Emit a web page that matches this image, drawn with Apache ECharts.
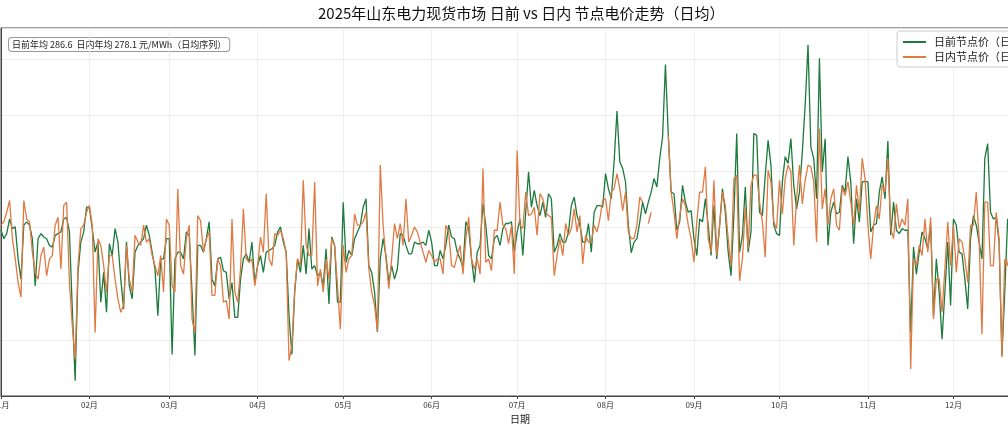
<!DOCTYPE html>
<html>
<head>
<meta charset="utf-8">
<script src="https://cdn.jsdelivr.net/npm/echarts@6/dist/echarts.min.js"></script>
<style>
  html, body { margin: 0; padding: 0; background: #fff; }
  #chart { width: 1008px; height: 429px; }
</style>
</head>
<body>
<div id="chart"></div>
<script>
// 日均节点电价（元/MWh），按 2025-01-01 起逐日排列，右侧超出画面部分未读取
var dayAheadPrice = [
  295,280,289,315,298,301,244,208,304,310,
  304,280,196,280,289,283,280,268,265,286,
  289,292,315,318,292,155,27,220,274,292,
  336,336,298,256,274,167,220,149,271,250,
  298,274,208,155,274,196,173,256,268,274,
  280,304,286,256,226,143,244,244,280,280,
  74,244,256,256,244,292,286,185,72,268,
  268,256,280,310,208,196,244,247,223,220,
  173,202,140,140,208,244,253,238,274,202,
  232,250,220,256,259,262,268,292,301,274,
  256,143,74,185,244,220,268,217,298,226,
  232,214,220,196,262,164,283,268,167,167,
  345,238,259,250,280,292,304,336,351,232,
  220,185,114,244,280,250,202,232,208,226,
  289,286,268,253,253,274,271,271,274,268,
  295,274,232,232,259,244,268,304,283,280,
  256,244,229,310,298,244,202,256,268,342,
  304,250,244,280,286,268,298,307,307,310,
  256,292,315,250,327,399,336,366,339,321,
  345,318,360,351,256,268,289,274,274,292,
  339,354,321,304,274,274,307,256,327,339,
  339,336,396,369,351,417,507,417,405,381,
  304,255,274,280,310,345,324,345,363,387,
  372,423,461,590,464,363,360,295,310,375,
  345,327,330,280,250,315,310,351,304,250,
  339,244,304,369,327,256,214,321,467,256,
  286,372,256,292,467,464,327,321,393,455,
  411,304,289,286,381,426,414,458,375,333,
  363,434,518,625,443,423,351,601,399,458,
  268,327,345,324,327,375,363,426,381,271,
  351,310,381,382,381,292,304,307,363,390,
  351,454,286,345,295,289,298,295,295,113,
  265,217,256,292,280,262,304,143,244,185,
  101,185,274,161,315,304,256,253,208,155,
  280,321,304,274,244,423,449,327,315,318,
  274,72,185,315,304
];

var intradayPrice = [
  304,310,327,348,280,244,202,176,348,315,
  310,256,220,208,250,265,214,244,250,304,
  318,226,339,345,202,125,66,232,298,304,
  327,339,304,113,280,268,232,185,250,250,
  208,173,149,161,268,208,185,286,274,268,
  304,274,280,250,232,214,250,185,315,304,
  196,185,369,232,217,280,304,137,113,321,
  312,256,280,292,179,179,244,232,167,170,
  137,315,185,167,226,333,244,238,244,196,
  232,283,256,360,244,232,289,286,295,280,
  256,63,89,191,244,232,384,268,250,250,
  381,196,226,185,244,208,280,268,196,119,
  268,220,244,250,324,304,304,310,327,226,
  185,161,116,411,304,244,191,244,307,280,
  307,268,351,274,286,301,292,274,256,238,
  259,250,238,244,244,217,304,292,232,229,
  250,268,217,280,318,244,226,244,217,405,
  238,244,223,295,295,345,304,298,271,304,
  217,437,304,298,363,321,324,336,286,360,
  351,327,321,318,214,250,280,250,307,286,
  298,333,292,321,235,286,274,274,304,292,
  315,348,351,312,363,369,396,369,330,363,
  292,280,280,304,354,345,null,307,327,null,
  null,null,null,null,464,363,327,280,321,351,
  339,304,280,238,310,363,363,408,280,256,
  384,250,304,363,339,280,232,387,393,205,
  244,336,262,375,393,393,345,310,247,402,
  381,310,298,384,324,387,411,399,268,351,
  411,342,384,411,408,381,274,476,333,369,
  304,351,369,304,295,372,357,381,345,304,
  375,327,423,387,304,244,304,339,315,375,
  363,423,298,280,342,298,315,304,351,48,
  244,232,268,250,315,256,318,137,208,208,
  149,226,310,232,304,220,280,274,244,202,
  304,304,363,280,110,345,345,232,232,327,
  280,69,244,232,274
];

var meanDayAhead = 286.6;
var meanIntraday = 278.1;

// 2025 全年日期（MM-DD）
var dates = [];
var d = new Date(Date.UTC(2025, 0, 1));
while (d.getUTCFullYear() == 2025) {
    var mm = ('0' + (d.getUTCMonth() + 1)).slice(-2);
    var dd = ('0' + d.getUTCDate()).slice(-2);
    dates.push(mm + '-' + dd);
    d.setUTCDate(d.getUTCDate() + 1);
}

var isMonthStart = function (index, value) {
    return dates[index].slice(3) == '01';
};

var fontCN = "'Noto Sans CJK SC', 'Noto Sans', sans-serif";
var myChart = echarts.init(document.getElementById('chart'));

var option = {
    backgroundColor: '#fff',
    textStyle: { fontFamily: fontCN },
    title: {
        text: '2025年山东电力现货市场 日前 vs 日内 节点电价走势（日均）',
        left: 313,
        top: 1,
        textStyle: { fontSize: 15, fontWeight: 'normal', color: '#111', fontFamily: fontCN }
    },
    legend: {
        orient: 'vertical',
        left: 897,
        top: 31,
        padding: [5, 6, 4, 6],
        itemGap: 3,
        itemWidth: 23,
        itemHeight: 2,
        icon: 'rect',
        backgroundColor: 'rgba(255,255,255,0.9)',
        borderColor: '#cccccc',
        borderWidth: 1,
        borderRadius: 3,
        textStyle: { fontSize: 11, lineHeight: 12, color: '#222', fontFamily: fontCN, padding: [0, 0, 0, 3] },
        data: ['日前节点价（日均）', '日内节点价（日均）']
    },
    grid: {
        left: 1,
        right: -31,
        top: 28,
        bottom: 33,
        outerBoundsMode: 'none',
        containLabel: false,
        show: true,
        borderColor: '#444',
        borderWidth: 1
    },
    xAxis: {
        type: 'category',
        data: dates,
        boundaryGap: false,
        name: '日期',
        nameLocation: 'middle',
        nameGap: 17,
        nameTextStyle: { fontSize: 10, color: '#222' },
        axisLine: { lineStyle: { color: '#444' } },
        axisTick: { interval: isMonthStart, length: 3, lineStyle: { color: '#444' } },
        axisLabel: {
            interval: isMonthStart,
            fontSize: 8,
            color: '#333',
            margin: 5,
            formatter: function (value) { return value.slice(0, 2) + '月'; }
        },
        splitLine: { show: true, interval: isMonthStart, lineStyle: { color: '#ebebeb', width: 0.8 } }
    },
    yAxis: {
        type: 'value',
        min: 0,
        max: 655,
        interval: 100,
        axisLine: { show: true, lineStyle: { color: '#444' } },
        axisTick: { show: false },
        axisLabel: { show: false },
        splitLine: { lineStyle: { color: '#ebebeb', width: 0.8 } }
    },
    graphic: [{
        type: 'text',
        left: 8,
        top: 37,
        style: {
            text: '日前年均 ' + meanDayAhead.toFixed(1) + '  日内年均 ' + meanIntraday.toFixed(1) + ' 元/MWh（日均序列）',
            font: '9px ' + fontCN,
            fill: '#222',
            backgroundColor: '#fff',
            borderColor: '#999',
            borderWidth: 1,
            borderRadius: 3,
            padding: [2, 3, 2, 3]
        }
    }],
    series: [{
        name: '日前节点价（日均）',
        type: 'line',
        data: dayAheadPrice,
        showSymbol: false,
        symbol: 'none',
        itemStyle: { color: '#1b7a3c' },
        lineStyle: { width: 1.3, color: '#1b7a3c' },
        z: 2
    }, {
        name: '日内节点价（日均）',
        type: 'line',
        data: intradayPrice,
        showSymbol: false,
        symbol: 'none',
        connectNulls: false,
        itemStyle: { color: '#e07a44' },
        lineStyle: { width: 1.3, color: '#e07a44' },
        z: 3
    }]
};
myChart.setOption(option);
</script>
</body>
</html>
